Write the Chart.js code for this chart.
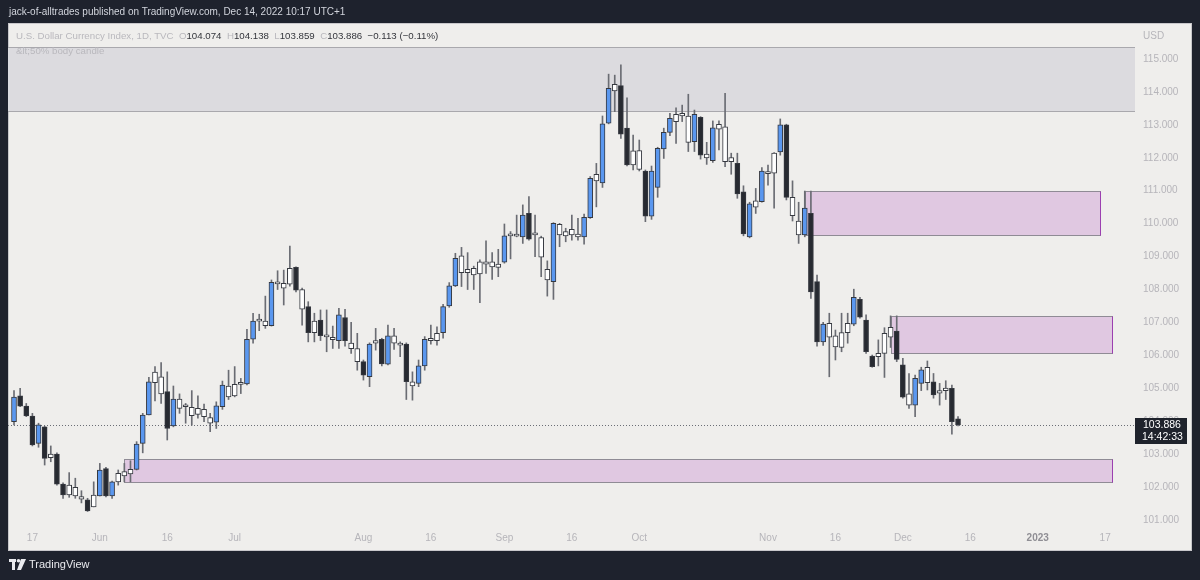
<!DOCTYPE html>
<html>
<head>
<meta charset="utf-8">
<script src="https://cdn.jsdelivr.net/npm/chart.js@4.4.0/dist/chart.umd.min.js"></script>
<style>
  html, body { margin: 0; padding: 0; width: 1200px; height: 580px; overflow: hidden; background: #1e222d; font-family: "Liberation Sans", Arial, sans-serif; }
  #panel { position: absolute; left: 8px; top: 23px; width: 1184px; height: 528px; box-sizing: border-box; background: #efeeec; border: 1px solid #c8c7cb; }
  #chartBox { position: absolute; left: 0; top: 0; width: 1200px; height: 580px; }
  #title { position: absolute; left: 9px; top: 6px; color: #d1d4dc; font-size: 10px; white-space: nowrap; }
  #legend { position: absolute; left: 16px; top: 30px; font-size: 9.7px; color: #b9b8bd; white-space: pre; }
  #legend b { font-weight: normal; color: #34363c; }
  #indicator { position: absolute; left: 16px; top: 45px; font-size: 9.7px; color: #b9b8bd; white-space: nowrap; }
  #currency { position: absolute; left: 1143px; top: 30px; font-size: 10px; color: #b6b5ba; }
  #footer { position: absolute; left: 9px; top: 558px; color: #e9eaee; font-size: 11px; white-space: nowrap; }
  #footer svg { vertical-align: -2px; margin-right: 3px; }
</style>
</head>
<body>
<div id="panel"></div>
<div id="chartBox"><canvas id="dxyChart" width="1200" height="580"></canvas></div>
<div id="title">jack-of-alltrades published on TradingView.com, Dec 14, 2022 10:17 UTC+1</div>
<div id="legend">U.S. Dollar Currency Index, 1D, TVC  O<b>104.074</b>  H<b>104.138</b>  L<b>103.859</b>  C<b>103.886</b>  <b>−0.113 (−0.11%)</b></div>
<div id="indicator">&amp;lt;50% body candle</div>
<div id="currency">USD</div>
<div id="footer"><svg width="17" height="11" viewBox="0 0 17 11"><rect x="0" y="0" width="7" height="3" fill="#e9eaee"/><rect x="3" y="0" width="3" height="11" fill="#e9eaee"/><circle cx="9.5" cy="1.8" r="1.8" fill="#e9eaee"/><polygon points="12,0 17,0 12,11 8,11" fill="#e9eaee"/></svg>TradingView</div>

<script>
// daily candles, TVC:DXY, 12 May 2022 .. 14 Dec 2022 (weekdays)
const opens = [
  103.99,104.77,104.46,104.16,103.33,103.83,102.89,103.00,102.09,101.76,
  101.99,101.71,101.61,101.40,101.73,102.56,101.73,102.16,102.47,102.40,
  102.54,103.33,104.19,105.17,105.35,104.90,103.86,104.67,104.45,104.42,
  104.21,104.36,104.11,103.97,104.44,105.07,104.77,105.12,105.13,106.49,
  107.04,107.04,106.90,108.21,108.19,108.16,108.67,108.00,107.48,106.69,
  107.07,106.60,106.48,106.45,107.15,106.37,106.21,105.81,105.35,106.37,
  106.49,105.73,106.59,106.34,106.34,105.20,105.15,105.68,106.45,106.45,
  106.69,107.50,108.11,109.02,108.51,108.64,108.47,108.84,108.69,108.77,
  108.83,109.63,109.62,109.60,110.31,109.66,109.58,108.61,108.24,109.98,
  109.63,109.83,109.60,109.60,110.18,111.30,111.24,113.05,114.23,114.19,
  112.90,112.21,112.22,111.60,110.23,111.10,112.27,112.77,113.10,113.27,
  113.27,112.49,113.23,112.00,111.91,112.87,112.94,111.88,111.83,110.97,
  109.60,110.50,110.67,111.56,111.53,112.18,113.00,110.80,110.08,109.66,
  110.31,108.24,106.41,106.97,106.59,106.24,106.69,106.95,107.70,107.07,
  105.98,105.96,106.06,106.55,106.74,105.71,104.83,104.49,105.15,105.64,
  105.20,104.85,104.93,105.00,104.074
];
const highs = [
  104.93,105.00,104.54,104.24,103.94,103.85,103.25,103.04,102.13,102.44,
  102.27,101.89,101.66,102.16,102.72,102.60,102.18,102.52,102.72,102.80,
  103.38,104.24,105.33,105.66,105.78,105.50,105.07,104.83,104.54,104.93,
  104.77,104.52,104.24,104.59,105.22,105.55,105.66,105.30,106.79,107.28,
  107.25,107.80,108.29,108.57,108.59,109.32,108.69,108.04,107.63,107.28,
  107.38,107.38,106.89,107.43,107.40,107.00,106.67,105.86,106.38,106.82,
  106.52,106.92,106.82,106.41,106.38,105.50,105.86,106.57,106.92,106.87,
  107.55,108.21,109.10,109.28,109.12,108.71,108.90,109.48,109.12,109.22,
  109.99,109.76,110.26,110.57,110.82,110.26,109.62,108.87,110.03,110.01,
  109.86,110.26,110.16,110.29,111.43,111.83,113.27,114.54,114.51,114.82,
  113.82,112.69,112.54,111.63,111.75,112.32,112.90,113.35,113.52,113.60,
  113.93,113.45,113.25,112.47,113.12,113.12,113.96,112.14,112.14,111.15,
  110.65,111.07,111.70,111.78,112.16,113.18,113.02,111.30,110.65,110.99,
  110.99,108.44,107.00,107.28,106.77,107.28,107.28,108.01,107.76,107.23,
  106.01,106.47,106.84,107.20,107.20,105.91,105.45,105.40,105.64,105.83,
  105.45,105.15,105.23,105.10,104.138
];
const lows = [
  103.89,104.44,104.14,103.25,103.21,102.67,102.77,102.06,101.66,101.69,
  101.66,101.52,101.26,101.40,101.73,101.70,101.66,102.06,102.16,102.16,
  102.52,103.04,104.19,104.62,104.54,103.43,103.83,104.24,103.94,103.88,
  104.09,103.99,103.68,103.78,104.36,104.66,104.74,104.84,105.10,106.37,
  106.75,106.82,106.89,108.00,107.53,108.10,107.93,106.92,106.41,106.41,
  106.45,106.11,106.21,106.21,106.28,106.06,105.55,105.25,105.05,106.16,
  105.68,105.71,106.18,105.96,104.66,104.64,105.05,105.55,106.34,106.31,
  106.52,107.46,108.09,108.09,108.00,108.00,107.60,108.49,108.31,108.39,
  108.80,108.93,109.60,109.40,109.50,109.00,108.39,107.80,107.70,109.30,
  109.45,109.50,109.50,109.38,110.16,110.51,111.10,113.03,113.40,112.59,
  111.75,111.63,111.60,110.06,110.13,110.80,111.98,112.67,112.44,113.10,
  112.19,112.19,111.96,111.80,111.86,112.24,111.73,111.50,110.77,109.63,
  109.57,110.31,110.65,111.17,110.47,112.08,110.72,110.08,109.40,109.60,
  107.73,106.28,106.30,105.35,105.86,106.11,106.37,106.90,107.13,106.06,
  105.64,105.68,105.33,106.24,105.81,104.70,104.39,104.14,104.93,104.95,
  104.70,104.49,104.66,103.61,103.859
];
const closes = [
  104.73,104.46,104.16,103.28,103.89,102.87,103.00,102.09,101.76,102.06,
  101.73,101.63,101.28,101.76,102.52,101.73,102.16,102.42,102.34,102.54,
  103.31,104.19,105.20,105.49,104.83,103.78,104.67,104.39,104.44,104.17,
  104.39,104.14,103.94,104.47,105.10,104.74,105.12,105.15,106.49,107.04,
  107.07,106.90,108.22,108.17,108.04,108.64,107.98,107.40,106.69,107.04,
  106.60,106.56,106.55,107.23,106.45,106.20,105.81,105.40,106.34,106.45,
  105.74,106.59,106.37,106.31,105.20,105.07,105.68,106.49,106.52,106.67,
  107.48,108.11,108.95,108.51,108.61,108.44,108.84,108.77,108.84,108.67,
  109.63,109.68,109.64,110.26,109.53,109.69,108.98,108.29,110.01,109.66,
  109.76,109.66,109.68,110.19,111.38,111.50,113.03,114.11,114.03,112.72,
  111.78,111.78,111.65,110.23,111.60,112.29,112.77,113.20,113.32,113.35,
  112.47,113.32,112.08,112.11,112.91,113.02,111.88,112.01,110.90,109.69,
  110.60,110.69,111.60,111.52,112.14,113.00,110.80,110.24,109.66,110.47,
  107.93,106.41,106.95,106.55,106.26,106.69,106.97,107.76,107.16,106.11,
  105.66,106.06,106.67,106.85,105.88,104.73,104.49,105.30,105.56,105.17,
  104.80,104.93,105.01,103.99,103.886
];
// "<50% body candle" indicator: b = strong up, k = strong down, w = small body
const kinds = ('bkkkbkwkkw' + 'wwkwbkbwww' + 'bbbwwkbwww' + 'wwwbbwwwbb' + 'wwbwwwkwkw' +
               'kwwbkwwkbw' + 'kbwwkwbbww' + 'bbbwwwwwww' + 'bwwbkwwwbw' + 'wwwbbwbbwk' +
               'kwwkbbbbww' + 'wbkwbwwwkk' + 'bwbwwbkwwb' + 'kkbwwwwbkk' + 'kwwwkkwbbw' +
               'kwwkk').split('');

// time axis labels (bar index -> text), bar 0 = 12 May 2022
const tickIdx  = [3, 14, 25, 36, 57, 68, 80, 91, 102, 123, 134, 145, 156, 167, 178];
const tickText = ['17', 'Jun', '16', 'Jul', 'Aug', '16', 'Sep', '16', 'Oct', 'Nov', '16', 'Dec', '16', '2023', '17'];
const priceTicks = [101, 102, 103, 104, 105, 106, 107, 108, 109, 110, 111, 112, 113, 114, 115];

// drawn zones: bar index range and price range
const zoneFrom = [-20, 129, 143, 18];
const zoneTo   = [220, 177.2, 179.1, 179.1];
const zoneHigh = [115.36, 111.00, 107.20, 102.84];
const zoneLow  = [113.42, 109.66, 106.08, 102.16];

const lastClose = closes[closes.length - 1];
const countdown = '14:42:33';

const fillFor = { b: '#5a97ef', k: '#272a31', w: '#ffffff' };

const bodies = opens.map((o, i) => ({ x: i, y: [o, closes[i]] }));
const wicks = highs.map((h, i) => ({ x: i, y: [lows[i], h] }));

const zonesPlugin = {
  id: 'zones',
  beforeDatasetsDraw(chart) {
    const { ctx, chartArea, scales } = chart;
    ctx.save();
    ctx.beginPath();
    ctx.rect(chartArea.left, chartArea.top, chartArea.right - chartArea.left, chartArea.bottom - chartArea.top);
    ctx.clip();
    zoneFrom.forEach((from, i) => {
      const x1 = Math.round(scales.x.getPixelForValue(from)) + 0.5;
      const x2 = Math.round(scales.x.getPixelForValue(zoneTo[i])) + 0.5;
      const y1 = Math.round(scales.y.getPixelForValue(zoneHigh[i])) + 0.5;
      const y2 = Math.round(scales.y.getPixelForValue(zoneLow[i])) + 0.5;
      ctx.fillStyle = i === 0 ? '#dcdbdf' : '#e0c8e1';
      ctx.fillRect(x1, y1, x2 - x1, y2 - y1);
      ctx.lineWidth = 1;
      ctx.strokeStyle = i === 0 ? '#a9a8ad' : '#8f8b95';
      ctx.strokeRect(x1, y1, x2 - x1, y2 - y1);
      if (i > 0) {
        ctx.strokeStyle = '#9b3fb0';
        ctx.beginPath();
        ctx.moveTo(x2, y1);
        ctx.lineTo(x2, y2);
        ctx.stroke();
      }
    });
    // current price line
    const py = Math.round(scales.y.getPixelForValue(lastClose)) + 0.5;
    ctx.strokeStyle = '#6b6e76';
    ctx.setLineDash([1, 2]);
    ctx.beginPath();
    ctx.moveTo(chartArea.left, py);
    ctx.lineTo(chartArea.right, py);
    ctx.stroke();
    ctx.restore();
  },
  afterDraw(chart) {
    const { ctx, chartArea, scales } = chart;
    const py = Math.round(scales.y.getPixelForValue(lastClose));
    ctx.save();
    ctx.fillStyle = '#1f232c';
    ctx.fillRect(chartArea.right, py - 7, 52, 26);
    ctx.fillStyle = '#ffffff';
    ctx.font = '10.5px "Liberation Sans", Arial, sans-serif';
    ctx.textBaseline = 'middle';
    ctx.fillText(lastClose.toFixed(3), chartArea.right + 8, py);
    ctx.fillText(countdown, chartArea.right + 7, py + 12);
    ctx.restore();
  }
};

const ctx = document.getElementById('dxyChart').getContext('2d');

new Chart(ctx, {
  type: 'bar',
  data: {
    datasets: [
      {
        data: bodies,
        backgroundColor: kinds.map(k => fillFor[k]),
        borderColor: '#363940',
        borderWidth: 1,
        borderSkipped: false,
        barThickness: 5,
        minBarLength: 2,
        grouped: false,
        order: 0
      },
      {
        data: wicks,
        backgroundColor: '#6a6c73',
        barThickness: 1,
        grouped: false,
        order: 1
      }
    ]
  },
  options: {
    responsive: false,
    animation: false,
    events: [],
    layout: { padding: { left: 8, top: 24, right: 8, bottom: 30 } },
    plugins: { legend: { display: false }, tooltip: { enabled: false } },
    scales: {
      x: {
        type: 'linear',
        offset: false,
        min: -0.98,
        max: 182.87,
        grid: { display: false, drawTicks: false },
        border: { display: false },
        afterBuildTicks: scale => { scale.ticks = tickIdx.map(v => ({ value: v })); },
        afterFit: scale => { scale.height = 22; },
        ticks: {
          autoSkip: false,
          maxRotation: 0,
          padding: 4,
          color: c => (c.tick && c.tick.value === 167 ? '#8f8e94' : '#b6b5ba'),
          font: c => ({ family: '"Liberation Sans", Arial, sans-serif', size: 10, weight: c.tick && c.tick.value === 167 ? 'bold' : 'normal' }),
          callback: v => tickText[tickIdx.indexOf(v)]
        }
      },
      y: {
        position: 'right',
        beginAtZero: false,
        min: 100.758,
        max: 116.063,
        grid: { display: false, drawTicks: false },
        border: { display: false },
        afterBuildTicks: scale => { scale.ticks = priceTicks.map(v => ({ value: v })); },
        afterFit: scale => { scale.width = 57; },
        ticks: {
          padding: 8,
          color: '#b6b5ba',
          font: { family: '"Liberation Sans", Arial, sans-serif', size: 10 },
          callback: v => v.toFixed(3)
        }
      }
    }
  },
  plugins: [zonesPlugin]
});
</script>
</body>
</html>
